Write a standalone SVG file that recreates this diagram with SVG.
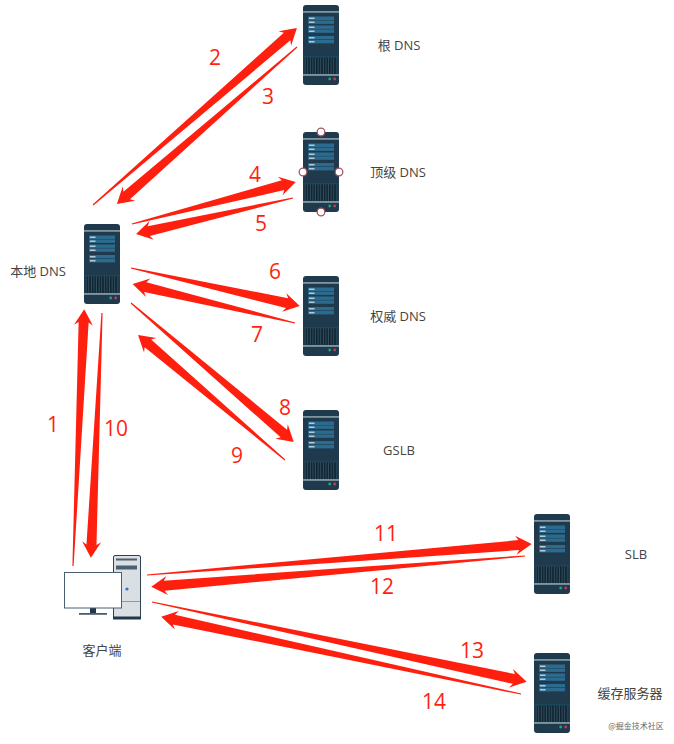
<svg xmlns="http://www.w3.org/2000/svg" width="674" height="744" viewBox="0 0 674 744">
<style>
.a{fill:#ff1f0f}
.n{font:21px "Open Sans","Noto Sans",sans-serif;fill:#ff1f0f;text-anchor:middle;dominant-baseline:central}
.l{font:13px "Open Sans","Noto Sans CJK SC",sans-serif;fill:#444;text-anchor:middle;dominant-baseline:central}
.h{fill:#fff;stroke:#a85560;stroke-width:1.3}
</style>
<defs>
<pattern id="v" width="2.6" height="4" patternUnits="userSpaceOnUse"><rect width="2.6" height="4" fill="#33505f"/><rect width="1.6" height="4" fill="#0f2433"/></pattern>
<g id="s">
<rect width="36" height="80" rx="3" fill="#1f3a4c"/>
<rect y="6" width="36" height="1.8" fill="#7e95a0"/>
<rect x="5" y="11.5" width="26" height="3.6" fill="#2c6a8e"/><rect x="5" y="15.5" width="26" height="3.4" fill="#2c6a8e"/>
<rect x="5" y="20.5" width="26" height="3.4" fill="#2c6a8e"/><rect x="5" y="24.4" width="26" height="3.4" fill="#2c6a8e"/>
<rect x="5" y="31" width="26" height="3.4" fill="#2c6a8e"/><rect x="5" y="35" width="26" height="3.4" fill="#2c6a8e"/>
<g fill="#d5e3ea"><rect x="6" y="12.6" width="5.5" height="1.2"/><rect x="6" y="16.6" width="5.5" height="1.2"/><rect x="6" y="21.6" width="5.5" height="1.2"/><rect x="6" y="25.6" width="5.5" height="1.2"/><rect x="6" y="32.2" width="5.5" height="1.2"/><rect x="6" y="36.2" width="5.5" height="1.2"/></g>
<rect y="51.5" width="36" height=".7" fill="#15566e"/>
<rect x="2" y="52.5" width="31.5" height="16.5" fill="url(#v)"/>
<rect y="69" width="36" height="1.9" fill="#7e95a0"/>
<circle cx="26.7" cy="74" r="1.4" fill="#2e9e78"/><circle cx="31.7" cy="74" r="1.4" fill="#c23a5c"/>
</g>
</defs>

<g id="connectors" class="a">
<path id="e2" transform="translate(93 205) rotate(-40.95)" d="M0 -.6L257 -5L254 -9.500L270 0L254 9.500L257 5L0 .6Z"/>
<path id="e3" transform="translate(297 47) rotate(138.9)" d="M0 -.6L226 -5L223 -9.500L239 0L223 9.500L226 5L0 .6Z"/>
<path id="e4" transform="translate(132 224) rotate(-14.4)" d="M0 -.6L156 -5L153 -9.500L169 0L153 9.500L156 5L0 .6Z"/>
<path id="e5" transform="translate(293 198) rotate(167.1)" d="M0 -.6L148 -5L145 -9.500L161 0L145 9.500L148 5L0 .6Z"/>
<path id="e6" transform="translate(131 268) rotate(12.7)" d="M0 -.6L160 -5L157 -9.500L173 0L157 9.500L160 5L0 .6Z"/>
<path id="e7" transform="translate(295 323) rotate(193.5)" d="M0 -.6L154 -5L151 -9.500L167 0L151 9.500L154 5L0 .6Z"/>
<path id="e8" transform="translate(131 303) rotate(40.5)" d="M0 -.6L201 -5L198 -9.500L214 0L198 9.500L201 5L0 .6Z"/>
<path id="e9" transform="translate(285 460) rotate(220.4)" d="M0 -.6L180 -5L177 -9.500L193 0L177 9.500L180 5L0 .6Z"/>
<path id="e1" transform="translate(73 566) rotate(-87.5)" d="M0 -.6L244 -5L241 -9.500L257 0L241 9.500L244 5L0 .6Z"/>
<path id="e10" transform="translate(102 313) rotate(92.6)" d="M0 -.6L232 -5L229 -9.500L245 0L229 9.500L232 5L0 .6Z"/>
<path id="e11" transform="translate(147 575) rotate(-4.6)" d="M0 -.6L373 -5L370 -9.500L386 0L370 9.500L373 5L0 .6Z"/>
<path id="e12" transform="translate(525 556) rotate(175.3)" d="M0 -.6L362 -5L359 -9.500L375 0L359 9.500L362 5L0 .6Z"/>
<path id="e13" transform="translate(152 602) rotate(12)" d="M0 -.6L370 -5L367 -9.500L383 0L367 9.500L370 5L0 .6Z"/>
<path id="e14" transform="translate(521 694) rotate(192.1)" d="M0 -.6L355 -5L352 -9.500L368 0L352 9.500L355 5L0 .6Z"/>
</g>

<g id="numbers">
<text class="n" x="215" y="57">2</text><text class="n" x="268" y="96">3</text>
<text class="n" x="255" y="174">4</text><text class="n" x="261" y="223">5</text>
<text class="n" x="275" y="271">6</text><text class="n" x="257" y="334">7</text>
<text class="n" x="285" y="407">8</text><text class="n" x="237" y="455">9</text>
<text class="n" x="53" y="424">1</text><text class="n" x="116" y="428">10</text>
<text class="n" x="386" y="533">11</text><text class="n" x="382" y="586">12</text>
<text class="n" x="472" y="650">13</text><text class="n" x="434" y="701">14</text>
</g>

<g id="root"><use href="#s" x="303" y="5"/><text class="l" x="399" y="45">根 DNS</text></g>
<g id="tld"><use href="#s" x="303" y="132"/><text class="l" x="398" y="172">顶级 DNS</text>
<circle class="h" cx="321" cy="132" r="3.8"/><circle class="h" cx="303" cy="172" r="3.8"/><circle class="h" cx="339" cy="172" r="3.8"/><circle class="h" cx="321" cy="212" r="3.8"/></g>
<g id="auth"><use href="#s" x="303" y="276"/><text class="l" x="398" y="316">权威 DNS</text></g>
<g id="gslb"><use href="#s" x="303" y="410"/><text class="l" x="399" y="450">GSLB</text></g>
<g id="local"><use href="#s" x="84" y="224"/><text class="l" x="38" y="271">本地 DNS</text></g>
<g id="slb"><use href="#s" x="534" y="514"/><text class="l" x="636" y="554">SLB</text></g>
<g id="cache"><use href="#s" x="534" y="653"/><text class="l" x="630" y="693">缓存服务器</text></g>

<g id="client">
<rect x="113.500" y="555.500" width="27" height="63" rx="1.500" fill="#dadfe4" stroke="#2d4354"/>
<rect x="113" y="616.500" width="28" height="3" fill="#22384a"/>
<rect x="116" y="558.500" width="21" height="2" fill="#4a5f70"/>
<rect x="116" y="565.500" width="21" height="4" fill="#4a5f70"/>
<rect x="114" y="601" width="26" height=".8" fill="#7a8894"/>
<circle cx="127" cy="589" r="1.600" fill="#2f6fd8"/>
<rect x="90" y="608" width="6" height="6" fill="#22384a"/>
<rect x="79" y="613" width="28" height="1.800" fill="#4a5f70"/>
<rect x="64.500" y="572.500" width="57" height="35.500" fill="#fff" stroke="#4a5f70"/>
<text class="l" x="102" y="650">客户端</text>
</g>
<text id="watermark" x="636" y="725.500" text-anchor="middle" dominant-baseline="central" style="font:8px 'Noto Sans CJK SC',sans-serif;fill:#666">@掘金技术社区</text>
</svg>
